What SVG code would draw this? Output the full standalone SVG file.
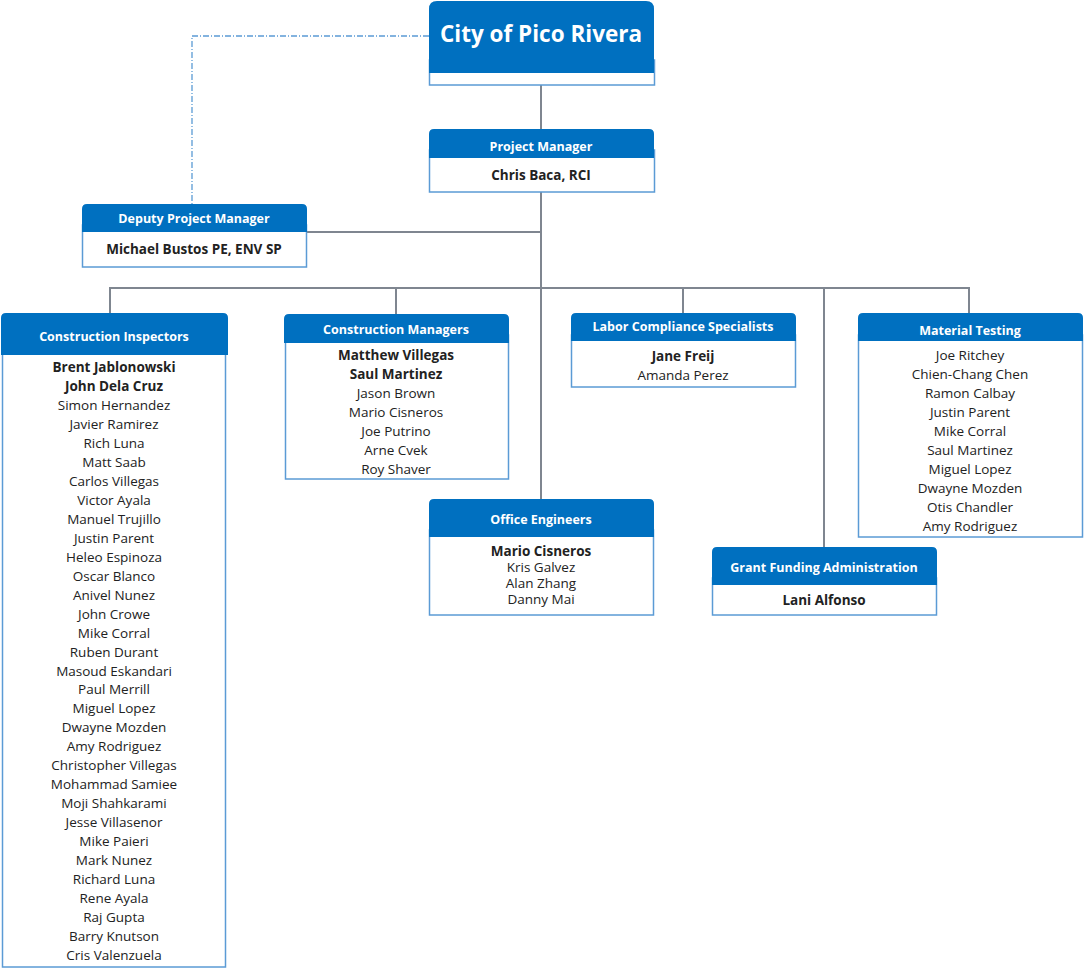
<svg xmlns="http://www.w3.org/2000/svg" width="1085" height="973" viewBox="0 0 1085 973">
<style>
.hdr{fill:#0070C0}
.body{fill:#fff;stroke:#5B9BD5;stroke-width:1.5}
.ht{font-family:"Open Sans","Liberation Sans",sans-serif;font-weight:bold;font-size:12.5px;fill:#fff;text-anchor:middle}
.t{font-family:"Open Sans","Liberation Sans",sans-serif;font-size:13.5px;fill:#222;text-anchor:middle}
.b{font-weight:bold}
.ln{stroke:#7F8690;stroke-width:2;fill:none}
.dash{stroke:#5B9BD5;stroke-width:1.3;fill:none;stroke-dasharray:6 2 1 2}
</style>
<rect width="1085" height="973" fill="#fff"/>
<g id="connectors">
<path class="dash" d="M429,36 H192 V204"/>
<path class="ln" d="M541,85 V129"/>
<path class="ln" d="M541,192 V499"/>
<path class="ln" d="M307,232 H541"/>
<path class="ln" d="M110,313 V288 H969 V313"/>
<path class="ln" d="M396,288 V314"/>
<path class="ln" d="M683,288 V313"/>
<path class="ln" d="M824,288 V547"/>
</g>
<g id="city">
<rect class="body" x="429.5" y="60" width="225" height="25"/>
<path class="hdr" d="M429,73 V9 Q429,1 437,1 H646 Q654,1 654,9 V73 Z"/>
<text x="541" y="42" font-family="'Open Sans','Liberation Sans',sans-serif" font-weight="bold" font-size="22.5" fill="#fff" text-anchor="middle">City of Pico Rivera</text>
</g>
<g id="pm">
<rect class="body" x="429.5" y="150" width="225" height="42"/>
<path class="hdr" d="M429,158 V134 Q429,129 434,129 H649 Q654,129 654,134 V158 Z"/>
<text class="ht" x="541" y="151">Project Manager</text>
<text class="t b" x="541" y="180">Chris Baca, RCI</text>
</g>
<g id="dpm">
<rect class="body" x="82.5" y="225" width="224" height="42"/>
<path class="hdr" d="M82,232 V209 Q82,204 87,204 H302 Q307,204 307,209 V232 Z"/>
<text class="ht" x="194" y="223">Deputy Project Manager</text>
<text class="t b" x="194" y="254">Michael Bustos PE, ENV SP</text>
</g>
<g id="ci">
<rect class="body" x="2.5" y="345" width="223" height="622"/>
<path class="hdr" d="M1,355 V318 Q1,313 6,313 H223 Q228,313 228,318 V355 Z"/>
<text class="ht" x="114" y="341">Construction Inspectors</text>
<g class="t">
<text x="114" y="372" class="b">Brent Jablonowski</text>
<text x="114" y="391" class="b">John Dela Cruz</text>
<text x="114" y="410">Simon Hernandez</text>
<text x="114" y="429">Javier Ramirez</text>
<text x="114" y="448">Rich Luna</text>
<text x="114" y="467">Matt Saab</text>
<text x="114" y="486">Carlos Villegas</text>
<text x="114" y="505">Victor Ayala</text>
<text x="114" y="524">Manuel Trujillo</text>
<text x="114" y="543">Justin Parent</text>
<text x="114" y="562">Heleo Espinoza</text>
<text x="114" y="581">Oscar Blanco</text>
<text x="114" y="600">Anivel Nunez</text>
<text x="114" y="619">John Crowe</text>
<text x="114" y="638">Mike Corral</text>
<text x="114" y="657">Ruben Durant</text>
<text x="114" y="676">Masoud Eskandari</text>
<text x="114" y="694">Paul Merrill</text>
<text x="114" y="713">Miguel Lopez</text>
<text x="114" y="732">Dwayne Mozden</text>
<text x="114" y="751">Amy Rodriguez</text>
<text x="114" y="770">Christopher Villegas</text>
<text x="114" y="789">Mohammad Samiee</text>
<text x="114" y="808">Moji Shahkarami</text>
<text x="114" y="827">Jesse Villasenor</text>
<text x="114" y="846">Mike Paieri</text>
<text x="114" y="865">Mark Nunez</text>
<text x="114" y="884">Richard Luna</text>
<text x="114" y="903">Rene Ayala</text>
<text x="114" y="922">Raj Gupta</text>
<text x="114" y="941">Barry Knutson</text>
<text x="114" y="960">Cris Valenzuela</text>
</g>
</g>
<g id="cm">
<rect class="body" x="285.5" y="335" width="223" height="144"/>
<path class="hdr" d="M284,343 V319 Q284,314 289,314 H504 Q509,314 509,319 V343 Z"/>
<text class="ht" x="396" y="334">Construction Managers</text>
<g class="t">
<text x="396" y="360" class="b">Matthew Villegas</text>
<text x="396" y="379" class="b">Saul Martinez</text>
<text x="396" y="398">Jason Brown</text>
<text x="396" y="417">Mario Cisneros</text>
<text x="396" y="436">Joe Putrino</text>
<text x="396" y="455">Arne Cvek</text>
<text x="396" y="474">Roy Shaver</text>
</g>
</g>
<g id="lcs">
<rect class="body" x="571.5" y="335" width="224" height="52"/>
<path class="hdr" d="M571,341 V318 Q571,313 576,313 H791 Q796,313 796,318 V341 Z"/>
<text class="ht" x="683" y="331">Labor Compliance Specialists</text>
<g class="t">
<text x="683" y="361" class="b">Jane Freij</text>
<text x="683" y="380">Amanda Perez</text>
</g>
</g>
<g id="mt">
<rect class="body" x="858.5" y="335" width="224" height="202"/>
<path class="hdr" d="M858,341 V318 Q858,313 863,313 H1078 Q1083,313 1083,318 V341 Z"/>
<text class="ht" x="970" y="335">Material Testing</text>
<g class="t">
<text x="970" y="360">Joe Ritchey</text>
<text x="970" y="379">Chien-Chang Chen</text>
<text x="970" y="398">Ramon Calbay</text>
<text x="970" y="417">Justin Parent</text>
<text x="970" y="436">Mike Corral</text>
<text x="970" y="455">Saul Martinez</text>
<text x="970" y="474">Miguel Lopez</text>
<text x="970" y="493">Dwayne Mozden</text>
<text x="970" y="512">Otis Chandler</text>
<text x="970" y="531">Amy Rodriguez</text>
</g>
</g>
<g id="oe">
<rect class="body" x="429.5" y="530" width="224" height="85"/>
<path class="hdr" d="M429,537 V504 Q429,499 434,499 H649 Q654,499 654,504 V537 Z"/>
<text class="ht" x="541" y="524">Office Engineers</text>
<g class="t">
<text x="541" y="556" class="b">Mario Cisneros</text>
<text x="541" y="572">Kris Galvez</text>
<text x="541" y="588">Alan Zhang</text>
<text x="541" y="604">Danny Mai</text>
</g>
</g>
<g id="gfa">
<rect class="body" x="712.5" y="578" width="224" height="37"/>
<path class="hdr" d="M712,585 V552 Q712,547 717,547 H932 Q937,547 937,552 V585 Z"/>
<text class="ht" x="824" y="572">Grant Funding Administration</text>
<text class="t b" x="824" y="605">Lani Alfonso</text>
</g>
</svg>
